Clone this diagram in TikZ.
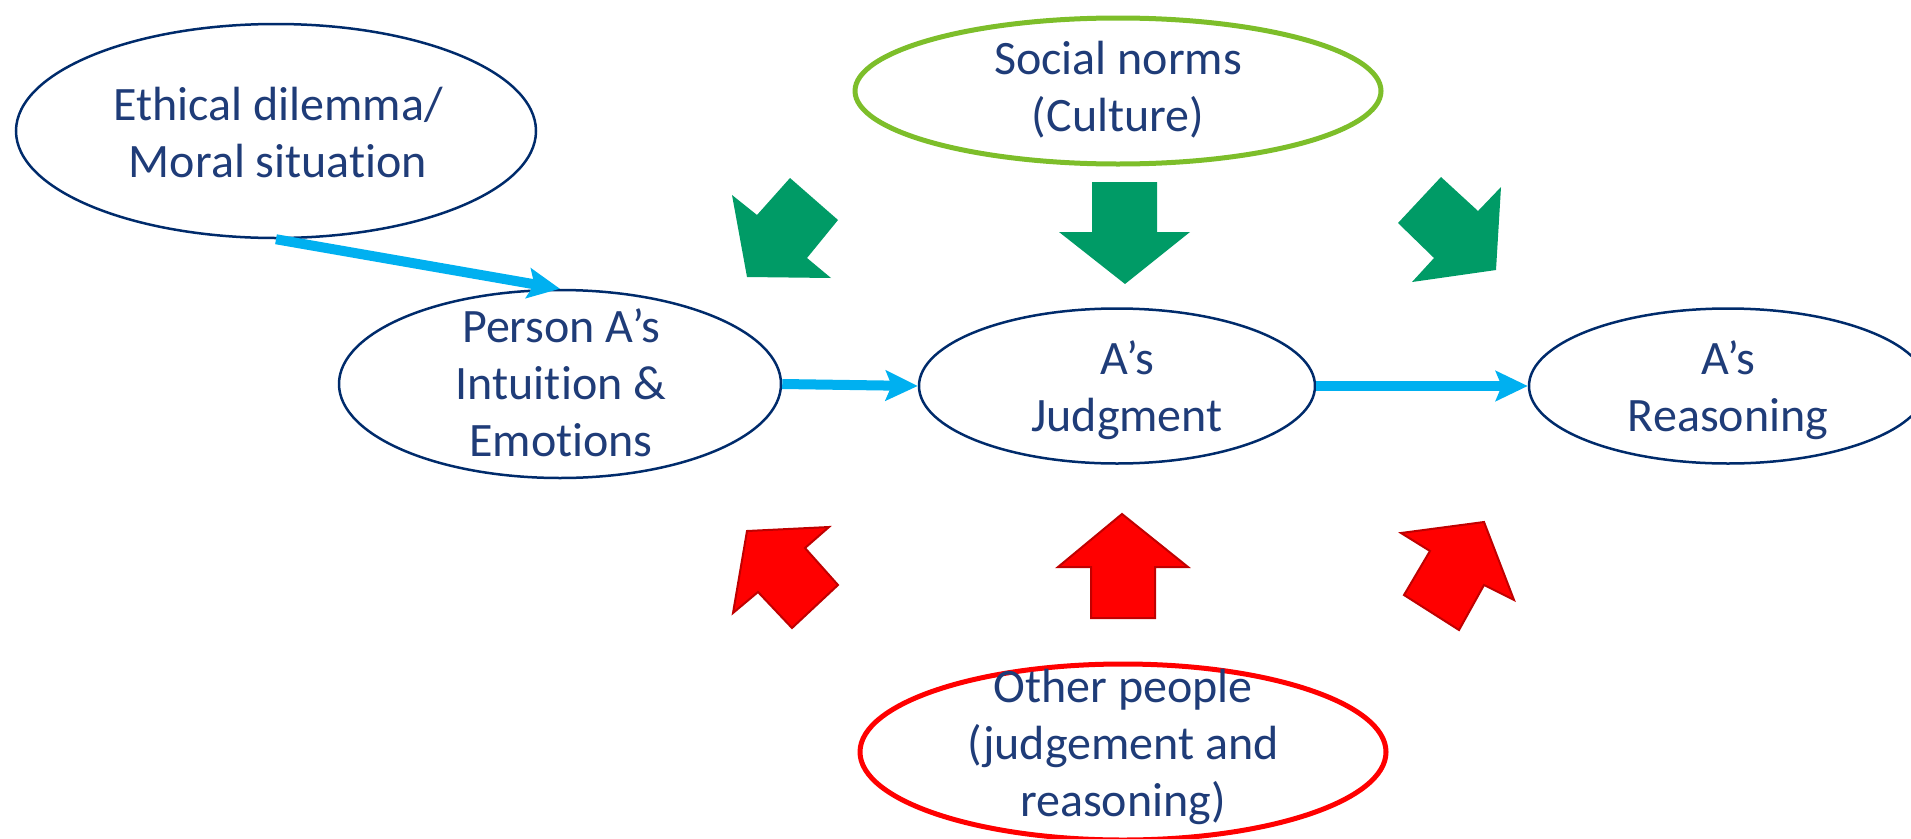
\documentclass[tikz,border=0pt]{standalone}
\usepackage{fontspec}
\setmainfont{Carlito}[Ligatures={NoCommon}]
\usetikzlibrary{shapes.geometric,arrows.meta}
\definecolor{navy}{HTML}{002B6B}
\definecolor{txt}{HTML}{1F3C78}
\definecolor{lgreen}{HTML}{7DBE2A}
\definecolor{dgreen}{HTML}{009B66}
\definecolor{myred}{HTML}{FF0000}
\definecolor{dred}{HTML}{C00000}
\definecolor{cyanline}{HTML}{00B0F0}
\tikzset{
  oval/.style={ellipse, draw=navy, line width=2.5pt, inner sep=0pt},
  lbl/.style={align=center, text=txt, font=\fontsize{48}{57}\selectfont, inner sep=0pt},
  conn/.style={draw=cyanline, line width=10pt, -{Stealth[length=32pt,width=30pt,inset=6pt]}},
  garrow/.style={fill=dgreen},
  rarrow/.style={fill=myred, draw=dred, line width=2pt, line join=miter},
}
\begin{document}
\begin{tikzpicture}[x=1pt,y=-1pt]
\useasboundingbox (0,0) rectangle (1911,838);
% ellipses
\node[oval, minimum width=520pt, minimum height=214pt] (eth) at (276,131) {};
\node[oval, draw=lgreen, line width=5pt, minimum width=526pt, minimum height=146pt] (soc) at (1118,91) {};
\node[oval, minimum width=442pt, minimum height=188pt] (per) at (560,384) {};
\node[oval, minimum width=396pt, minimum height=155pt] (jud) at (1117,386) {};
\node[oval, minimum width=398pt, minimum height=155pt] (rea) at (1728,386) {};
\node[oval, draw=myred, line width=5pt, minimum width=526pt, minimum height=176pt] (oth) at (1123,752) {};
% texts
\node[lbl] (teth) at (278,133) {Ethical dilemma/\\Moral situation};
\node[lbl] (tsoc) at (1118,90) {Social norms\\(Culture)};
\node[lbl] (tper) at (561,383) {Person A’s\\Intuition \&\\Emotions};
\node[lbl] (tjud) at (1127,390) {A’s\\Judgment};
\node[lbl] (trea) at (1728,390) {A’s\\Reasoning};
\node[lbl] (toth) at (1123,747) {Other people\\(judgement and\\reasoning)};
% connectors
\draw[conn] (eth.south) -- (per.north);
\draw[conn] (per.east) -- (jud.west);
\draw[conn] (jud.east) -- (rea.west);
% green arrows
\fill[garrow] (732,195) -- (757,215) -- (790,178) -- (838,220) -- (807,258) -- (831,278) -- (747,277) -- cycle;
\fill[garrow] (1092,182) -- (1157,182) -- (1157,232) -- (1190,232) -- (1125,284) -- (1059,232) -- (1092,232) -- cycle;
\fill[garrow] (1441,177) -- (1478,211) -- (1501,187) -- (1496,270) -- (1412,282) -- (1434,258) -- (1398,223) -- cycle;
% red arrows
\filldraw[rarrow] (747,531) -- (829,527) -- (805,548) -- (838,585) -- (792,628) -- (758,592) -- (733,613) -- cycle;
\filldraw[rarrow] (1122,514) -- (1188,567) -- (1155,567) -- (1155,618) -- (1091,618) -- (1091,567) -- (1058,567) -- cycle;
\filldraw[rarrow] (1484,522) -- (1514,600) -- (1484,585) -- (1459,630) -- (1404,595) -- (1430,551) -- (1401,533) -- cycle;
\end{tikzpicture}
\end{document}
